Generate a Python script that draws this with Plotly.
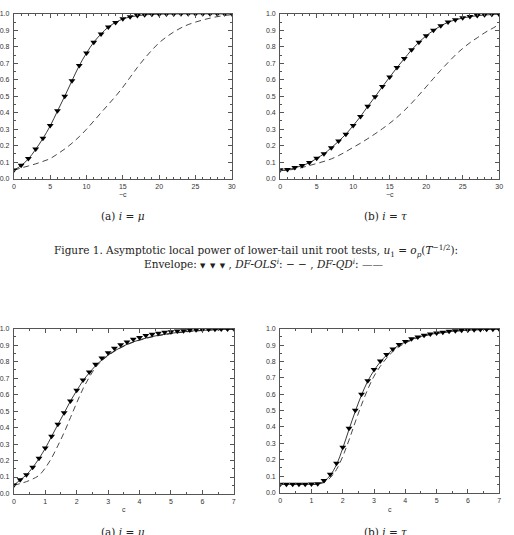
import plotly.graph_objects as go

# ---------------- data ----------------
c_top = [0, 1, 2, 3, 4, 5, 6, 7, 8, 9, 10, 11, 12, 13, 14, 15, 16, 17, 18, 19, 20,
         21, 22, 23, 24, 25, 26, 27, 28, 29, 30]

# panel (a) top: i = mu
env_a_top = [0.052, 0.082, 0.122, 0.180, 0.246, 0.322, 0.412, 0.500, 0.594, 0.686, 0.762,
             0.828, 0.878, 0.920, 0.948, 0.970, 0.982, 0.990, 0.995, 0.997, 0.998,
             0.999, 0.999, 1.0, 1.0, 1.0, 1.0, 1.0, 1.0, 1.0, 1.0]
qd_a_top = [0.050, 0.080, 0.120, 0.178, 0.244, 0.320, 0.410, 0.500, 0.594, 0.686, 0.762,
            0.828, 0.878, 0.920, 0.948, 0.969, 0.981, 0.989, 0.994, 0.997, 0.998,
            0.999, 0.999, 1.0, 1.0, 1.0, 1.0, 1.0, 1.0, 1.0, 1.0]
ols_a_top = [0.050, 0.065, 0.077, 0.090, 0.105, 0.122, 0.150, 0.180, 0.215, 0.255, 0.300,
             0.350, 0.400, 0.450, 0.500, 0.555, 0.615, 0.675, 0.730, 0.780, 0.825,
             0.860, 0.890, 0.915, 0.935, 0.950, 0.963, 0.974, 0.983, 0.990, 0.995]

# panel (b) top: i = tau
env_b_top = [0.054, 0.056, 0.068, 0.080, 0.098, 0.124, 0.152, 0.188, 0.228, 0.270, 0.323,
             0.377, 0.440, 0.497, 0.559, 0.617, 0.675, 0.729, 0.782, 0.828, 0.868,
             0.900, 0.928, 0.950, 0.964, 0.976, 0.984, 0.990, 0.994, 0.997, 0.998]
qd_b_top = [0.050, 0.054, 0.066, 0.079, 0.097, 0.123, 0.151, 0.187, 0.227, 0.270, 0.322,
            0.377, 0.439, 0.497, 0.558, 0.616, 0.674, 0.728, 0.781, 0.827, 0.867,
            0.899, 0.927, 0.949, 0.963, 0.975, 0.983, 0.989, 0.993, 0.996, 0.998]
ols_b_top = [0.050, 0.052, 0.058, 0.068, 0.080, 0.092, 0.105, 0.120, 0.140, 0.164, 0.190,
             0.215, 0.243, 0.272, 0.303, 0.336, 0.372, 0.413, 0.458, 0.507, 0.557,
             0.608, 0.658, 0.705, 0.750, 0.790, 0.825, 0.855, 0.885, 0.910, 0.935]

c_bot = [0.0, 0.2, 0.4, 0.6, 0.8, 1.0, 1.2, 1.4, 1.6, 1.8, 2.0, 2.2, 2.4, 2.6, 2.8, 3.0,
         3.2, 3.4, 3.6, 3.8, 4.0, 4.2, 4.4, 4.6, 4.8, 5.0, 5.2, 5.4, 5.6, 5.8, 6.0,
         6.2, 6.4, 6.6, 6.8, 7.0]

# panel (a) bottom: i = mu
env_a_bot = [0.052, 0.084, 0.114, 0.160, 0.214, 0.276, 0.348, 0.420, 0.490, 0.562, 0.626,
             0.688, 0.738, 0.784, 0.822, 0.854, 0.882, 0.902, 0.920, 0.936, 0.946,
             0.958, 0.966, 0.972, 0.978, 0.982, 0.986, 0.988, 0.992, 0.994, 0.995,
             0.996, 0.997, 0.998, 0.998, 0.999]
qd_a_bot = [0.050, 0.082, 0.113, 0.158, 0.212, 0.274, 0.346, 0.418, 0.488, 0.560, 0.624,
            0.684, 0.732, 0.775, 0.810, 0.840, 0.865, 0.886, 0.905, 0.920, 0.932,
            0.943, 0.952, 0.960, 0.966, 0.972, 0.977, 0.981, 0.985, 0.988, 0.990,
            0.992, 0.994, 0.995, 0.996, 0.997]
ols_a_bot = [0.050, 0.060, 0.072, 0.088, 0.110, 0.155, 0.215, 0.290, 0.370, 0.460, 0.550,
             0.635, 0.705, 0.765, 0.806, 0.837, 0.862, 0.884, 0.903, 0.918, 0.930,
             0.941, 0.950, 0.958, 0.964, 0.970, 0.975, 0.979, 0.983, 0.986, 0.989,
             0.991, 0.993, 0.994, 0.995, 0.996]

# panel (b) bottom: i = tau
env_b_bot = [0.050, 0.050, 0.050, 0.050, 0.050, 0.052, 0.054, 0.074, 0.112, 0.179, 0.277,
             0.392, 0.502, 0.600, 0.683, 0.751, 0.803, 0.843, 0.876, 0.904, 0.922,
             0.938, 0.950, 0.960, 0.968, 0.974, 0.978, 0.984, 0.988, 0.990, 0.992,
             0.994, 0.995, 0.996, 0.997, 0.998]
qd_b_bot = [0.050, 0.050, 0.050, 0.050, 0.050, 0.050, 0.052, 0.068, 0.105, 0.170, 0.270,
            0.385, 0.495, 0.595, 0.680, 0.745, 0.797, 0.838, 0.872, 0.900, 0.918,
            0.935, 0.948, 0.958, 0.966, 0.972, 0.977, 0.982, 0.986, 0.989, 0.991,
            0.993, 0.995, 0.996, 0.997, 0.998]
ols_b_bot = [0.050, 0.050, 0.050, 0.050, 0.050, 0.050, 0.051, 0.062, 0.090, 0.140, 0.220,
             0.320, 0.430, 0.535, 0.630, 0.710, 0.770, 0.820, 0.860, 0.890, 0.912,
             0.930, 0.944, 0.955, 0.964, 0.971, 0.976, 0.981, 0.985, 0.988, 0.990,
             0.992, 0.994, 0.995, 0.996, 0.997]

# ---------------- figure ----------------
W, H = 514, 535
fig = go.Figure()

panels = [
    ("x", "y", c_top, env_a_top, qd_a_top, ols_a_top),
    ("x2", "y2", c_top, env_b_top, qd_b_top, ols_b_top),
    ("x3", "y3", c_bot, env_a_bot, qd_a_bot, ols_a_bot),
    ("x4", "y4", c_bot, env_b_bot, qd_b_bot, ols_b_bot),
]
for xa, ya, cx, env, qd, ols in panels:
    fig.add_trace(go.Scatter(x=cx, y=ols, xaxis=xa, yaxis=ya, mode="lines",
                             line=dict(color="#333333", width=0.9, dash="6px,4px", shape="spline"),
                             showlegend=False))
    fig.add_trace(go.Scatter(x=cx, y=qd, xaxis=xa, yaxis=ya, mode="lines",
                             line=dict(color="#222222", width=0.9, shape="spline"),
                             showlegend=False))
    fig.add_trace(go.Scatter(x=cx, y=env, xaxis=xa, yaxis=ya, mode="markers",
                             marker=dict(symbol="triangle-down", size=6, color="black",
                                         line=dict(width=0)),
                             showlegend=False))

def px(v):
    return v / W

def py(v):
    return 1 - v / H

tickfont = dict(family="Liberation Sans, Arial, sans-serif", size=7, color="#333333")
axis_common = dict(showgrid=False, zeroline=False, showline=True, linecolor="#555555",
                   linewidth=1, mirror="allticks", ticks="inside", ticklen=4,
                   tickcolor="#555555", tickwidth=0.8, tickfont=tickfont)

def xaxis(dom, rng, dtick, mdt, anchor):
    return dict(domain=dom, range=rng, dtick=dtick, tick0=0, anchor=anchor,
                minor=dict(dtick=mdt, ticks="inside", ticklen=2, tickcolor="#555555",
                           showgrid=False),
                ticklabelstandoff=1, **axis_common)

def yaxis(dom, anchor):
    return dict(domain=dom, range=[0, 1.0], dtick=0.1, tick0=0, anchor=anchor,
                tickformat=".1f",
                minor=dict(dtick=0.05, ticks="inside", ticklen=2, tickcolor="#555555",
                           showgrid=False),
                ticklabelstandoff=2, **axis_common)

fig.update_layout(
    width=W, height=H, margin=dict(l=0, r=0, t=0, b=0),
    paper_bgcolor="white", plot_bgcolor="white",
    xaxis=xaxis([px(11), px(232)], [0, 30], 5, 1, "y"),
    yaxis=yaxis([py(177), py(10)], "x"),
    xaxis2=xaxis([px(281), px(503)], [0, 30], 5, 1, "y2"),
    yaxis2=yaxis([py(177), py(10)], "x2"),
    xaxis3=xaxis([px(11), px(234)], [0, 7], 1, 0.5, "y3"),
    yaxis3=yaxis([py(496), py(329)], "x3"),
    xaxis4=xaxis([px(281), px(503)], [0, 7], 1, 0.5, "y4"),
    yaxis4=yaxis([py(495), py(329)], "x4"),
)

serif = "DejaVu Serif, Liberation Serif, serif"
sans = "Liberation Sans, Arial, sans-serif"
ann = []
def add(text, x, y, size, family, yanchor="middle", color="#222222"):
    ann.append(dict(text=text, x=px(x), y=py(y), xref="paper", yref="paper",
                    xanchor="center", yanchor=yanchor, showarrow=False,
                    font=dict(size=size, family=family, color=color)))

add("−c", 122, 193, 7, sans, color="#333333")
add("−c", 392, 193, 7, sans, color="#333333")
add("c", 123, 512, 7, sans, color="#333333")
add("c", 392, 512, 7, sans, color="#333333")
add("(a) <i>i</i> = <i>μ</i>", 122, 215, 10.5, serif)
add("(b) <i>i</i> = <i>τ</i>", 388, 215, 10.5, serif)
add("Figure 1. Asymptotic local power of lower-tail unit root tests, <i>u</i><sub>1</sub> = "
    "<i>o<sub>p</sub></i>(<i>T</i><sup>−1/2</sup>):", 256, 250, 10.5, serif)
add("Envelope: <span style='font-size:7px'>▼&nbsp;&nbsp;▼&nbsp;&nbsp;▼</span> , "
    "<i>DF-OLS<sup>i</sup></i>: − − , <i>DF-QD<sup>i</sup></i>: ——", 264, 263, 10.5, serif)
add("(a) <i>i</i> = <i>μ</i>", 122, 527, 10.5, serif, yanchor="top")
add("(b) <i>i</i> = <i>τ</i>", 388, 527, 10.5, serif, yanchor="top")
fig.update_layout(annotations=ann)

fig.write_html("out.html")
